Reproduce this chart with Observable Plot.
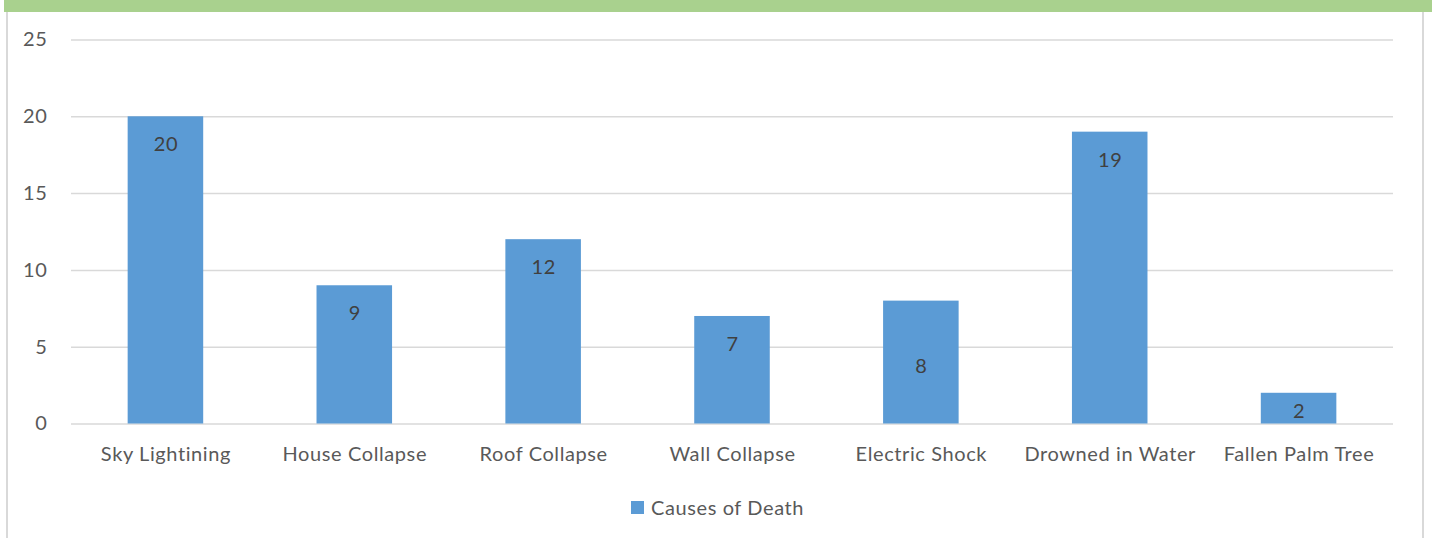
<!DOCTYPE html>
<html>
<head>
<meta charset="utf-8">
<script src="https://cdn.jsdelivr.net/npm/d3@7"></script>
<script src="https://cdn.jsdelivr.net/npm/@observablehq/plot@0.6"></script>
<style>
  html, body { margin: 0; padding: 0; background: #fff; }
  #wrap { position: relative; width: 1432px; height: 538px; overflow: hidden; font-family: Lato, "Open Sans", sans-serif; }
  #chart { position: absolute; left: 0; top: 0; }
  .band { position: absolute; left: 4px; top: 0; width: 1428px; height: 12px; background: #a9d18e; }
  .vline { position: absolute; top: 12px; width: 2px; height: 526px; background: #d9d9d9; }
  #legend { position: absolute; left: 631px; top: 495px; display: flex; align-items: center; gap: 7px; color: #595959; font-size: 20px; letter-spacing: 0.6px; }
  #legend .sw { width: 13px; height: 13px; background: #5b9bd5; }
</style>
</head>
<body>
<div id="wrap">
  <div id="chart"></div>
  <div class="band"></div>
  <div class="vline" style="left:6px"></div>
  <div class="vline" style="left:1422px"></div>
  <div id="legend"><div class="sw"></div><span id="legendText"></span></div>
</div>
<script>
const categories = ["Sky Lightining", "House Collapse", "Roof Collapse", "Wall Collapse", "Electric Shock", "Drowned in Water", "Fallen Palm Tree"];
const values = [20, 9, 12, 7, 8, 19, 2];
const yTicks = [0, 5, 10, 15, 20, 25];
const seriesName = "Causes of Death";

const data = categories.map((c, i) => ({cause: c, value: values[i]}));
const barColor = "#5b9bd5";
const labelColor = "#404040";

const normal = data.filter(d => d.cause !== "Electric Shock" && d.cause !== "Fallen Palm Tree");
const shock = data.filter(d => d.cause === "Electric Shock");
const palm = data.filter(d => d.cause === "Fallen Palm Tree");

const chart = Plot.plot({
  width: 1432,
  height: 538,
  marginLeft: 71,
  marginRight: 39,
  marginTop: 39.5,
  marginBottom: 114.5,
  style: {fontFamily: "Lato, 'Open Sans', sans-serif", fontSize: "20px", letterSpacing: "0.6px", color: "#595959", background: "transparent"},
  x: {domain: categories, paddingInner: 0.6, paddingOuter: 0.3, round: false, label: null},
  y: {domain: [0, 25], label: null},
  marks: [
    Plot.gridY(yTicks, {stroke: "#d9d9d9", strokeOpacity: 1, strokeWidth: 1.5}),
    Plot.barY(data, {x: "cause", y: "value", fill: barColor}),
    Plot.axisY(yTicks, {tickSize: 0, tickPadding: 24, fontSize: 20, label: null}),
    Plot.axisX({tickSize: 0, tickPadding: 23, fontSize: 20, label: null}),
    Plot.text(normal, {x: "cause", y: "value", text: d => String(d.value), dy: 28, fill: labelColor, fontSize: 20}),
    Plot.text(shock, {x: "cause", y: "value", text: d => String(d.value), dy: 65, fill: labelColor, fontSize: 20}),
    Plot.text(palm, {x: "cause", y: "value", text: d => String(d.value), dy: 18, fill: labelColor, fontSize: 20})
  ]
});
document.getElementById("chart").appendChild(chart);
document.getElementById("legendText").textContent = seriesName;
</script>
</body>
</html>
